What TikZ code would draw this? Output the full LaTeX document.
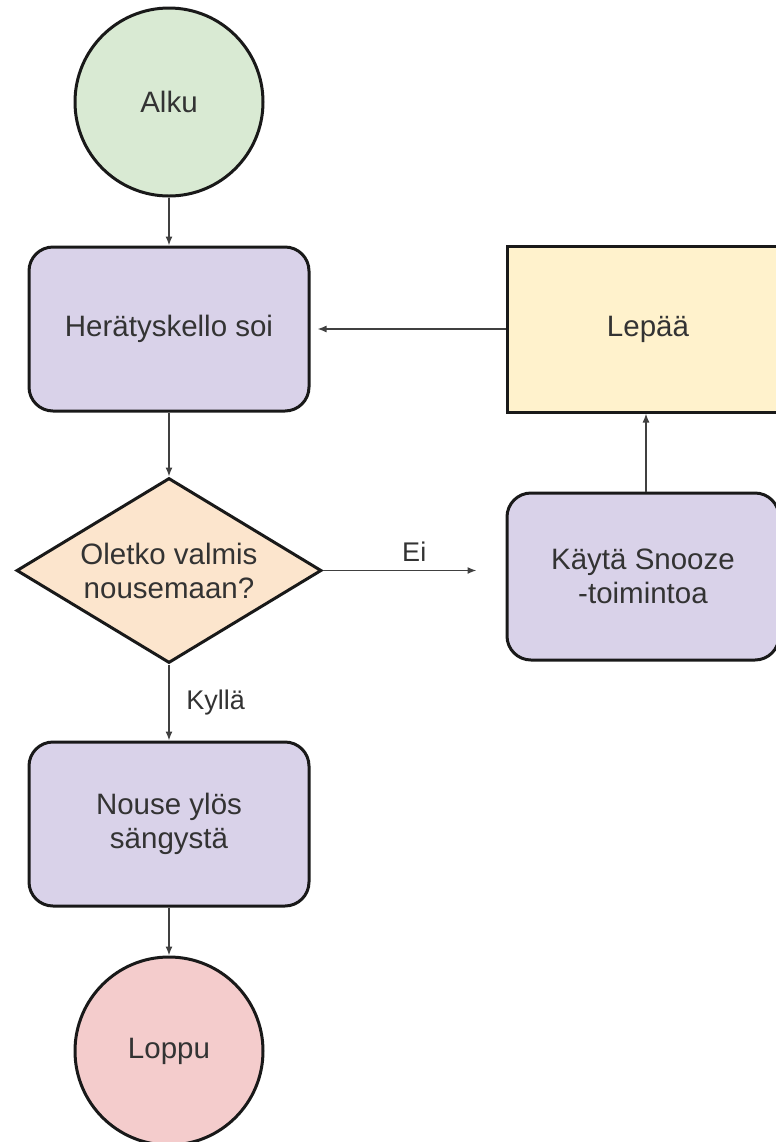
\documentclass[tikz,border=0pt]{standalone}
\usepackage{fontspec}
\setmainfont{Liberation Sans}
\usetikzlibrary{positioning,shapes.geometric,arrows.meta}
\definecolor{alkugreen}{HTML}{D9EAD3}
\definecolor{steppurple}{HTML}{D9D2E9}
\definecolor{questorange}{HTML}{FCE5CD}
\definecolor{restyellow}{HTML}{FFF2CC}
\definecolor{loppured}{HTML}{F4CCCC}
\newcommand{\flowfont}{\fontsize{14.75}{17}\selectfont}
\newcommand{\labelfont}{\fontsize{13.5}{16}\selectfont}

\begin{document}
\begin{tikzpicture}[
			endsnode/.style={circle, draw=black!90, line width=1.5pt, minimum size=94pt, inner sep=0pt, text=black!80, font=\flowfont},
			stepbox/.style={rectangle, rounded corners=12pt, draw=black!90, fill=steppurple, line width=1.5pt, minimum width=140pt, minimum height=82pt, align=center, text=black!80, font=\flowfont},
			questnode/.style={diamond, aspect=1.65, draw=black!90, fill=questorange, line width=1.5pt, minimum width=152.5pt, minimum height=92.5pt, inner sep=0pt, align=center, text=black!80, font=\flowfont},
			restbox/.style={rectangle, draw=black!90, fill=restyellow, line width=1.5pt, minimum width=141pt, minimum height=83pt, text=black!80, font=\flowfont},
			flowarrow/.style={-{Latex[length=4.5pt,width=3.5pt]}, draw=black!75, line width=0.7pt},
			answer/.style={text=black!80, font=\labelfont},
			]
			\useasboundingbox (0,0) rectangle (388pt,-571pt);
			\clip (0,0) rectangle (388pt,-571pt);

			%Nodes
			\node[endsnode, fill=alkugreen] (alku) at (84.5pt,-51pt) {Alku};
			\node[stepbox] (herat)  [below=24pt of alku]  {Herätyskello soi};
			\node[questnode] (valmis) [below=32pt of herat] {Oletko valmis\\nousemaan?};
			\node[stepbox] (nouse)  [below=38pt of valmis]  {Nouse ylös\\sängystä};
			\node[endsnode, fill=loppured] (loppu) [below=24pt of nouse] {Loppu};

			\node[restbox] (lepaa)  [right=97.5pt of herat]   {Lepää};
			\node[stepbox, minimum width=136pt, minimum height=83.5pt] (snooze) [below=39pt of lepaa.south west, anchor=north west] {Käytä Snooze\\-toimintoa};

			%Arrows
			\draw[flowarrow] (alku) -- (herat);
			\draw[flowarrow] (herat) -- (valmis);
			\draw[flowarrow] (valmis) -- node[answer, right=5pt] {Kyllä} (nouse);
			\draw[flowarrow] (nouse) -- (loppu);
			\draw[flowarrow, shorten >=14.5pt] (valmis.east) -- node[answer, above=1pt] {Ei} (valmis.east -| snooze.west);
			\draw[flowarrow] (snooze.north) ++(1.5pt,0) coordinate (snoozetop) -- (snoozetop |- lepaa.south);
			\draw[flowarrow, shorten >=3.5pt] (lepaa.west) -- (herat.east);
		\end{tikzpicture}
\end{document}
